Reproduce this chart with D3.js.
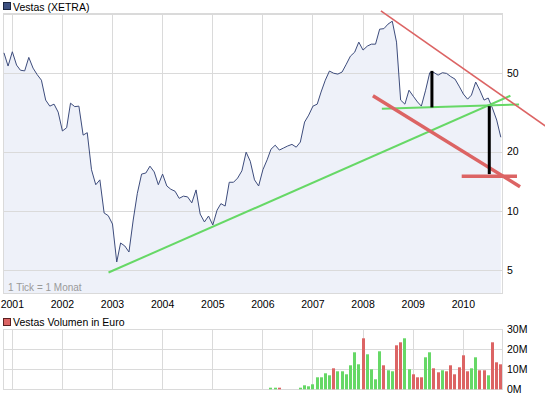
<!DOCTYPE html>
<html>
<head>
<meta charset="utf-8">
<script src="https://cdn.jsdelivr.net/npm/d3@7"></script>
<style>
  body { margin: 0; background: #fff; }
  svg { display: block; font-family: "Liberation Sans", Arial, sans-serif; }
</style>
</head>
<body>
<div id="chart"></div>
<script>
// monthly closing prices (EUR), Nov 2000 .. Oct 2010
var priceStart = "2000-11";
var prices = [
  63.6, 54.5,
  64.4, 55.1, 51.9, 51.5, 60.3, 53.2, 49.3, 46.2, 36.6, 34.1, 34.9, 31.8,
  25.5, 26.5, 35.3, 33.9, 34.1, 24.3, 25.0, 16.2, 13.6, 14.4, 9.77, 9.47,
  8.59, 5.51, 6.88, 6.64, 6.19, 9.00, 12.3, 15.4, 15.6, 16.9, 15.8, 13.6,
  15.4, 13.4, 12.9, 12.6, 11.6, 11.9, 11.8, 11.0, 12.8, 9.65, 8.80, 9.43,
  8.49, 10.1, 10.9, 10.6, 14.0, 14.0, 14.7, 16.0, 19.9, 17.9, 14.4, 13.4,
  16.2, 18.2, 20.6, 21.6, 20.4, 20.9, 21.4, 21.8, 21.1, 22.4, 28.3, 30.7,
  34.1, 34.9, 40.2, 46.2, 51.4, 50.1, 49.6, 50.8, 55.7, 61.2, 64.1, 72.1,
  65.7, 68.8, 70.4, 70.4, 83.9, 84.4, 89.0, 92.1, 72.1, 36.6, 34.9, 41.1,
  38.3, 35.8, 34.1, 41.1, 50.4, 50.5, 49.0, 50.4, 50.0, 48.2, 46.8, 43.1,
  39.3, 37.0, 38.8, 45.2, 41.1, 36.6, 37.5, 33.3, 29.0, 23.7
];

// monthly volume (million EUR), Mar 2006 .. Oct 2010; g = up month, r = down month
var volStart = "2006-03";
var volumes = [
  0.8, 0.8, 0.8, 0, 0, 0, 0, 0.8, 2, 1.5,
  2.5, 6, 6, 8, 7, 10.5, 9, 9, 7.5, 12, 18.5, 12.5,
  25.5, 17.5, 10, 5, 19, 12, 9.5, 9, 22, 23.5, 25.5, 10,
  7.5, 6, 6, 16, 18.5, 10.5, 8.5, 9.5, 9, 12, 7.5, 11,
  17, 9, 10.5, 16, 9.5, 9.5, 7, 23.5, 13.5, 12.5
];
var volColors = [
  "g", "g", "r", "g", "g", "g", "g", "g", "g", "g",
  "g", "g", "g", "g", "g", "r", "g", "g", "g", "g", "g", "g",
  "r", "g", "g", "g", "g", "r", "g", "g", "r", "r", "g", "g",
  "r", "r", "r", "g", "g", "r", "r", "g", "r", "r", "r", "r",
  "r", "r", "g", "g", "r", "r", "g", "r", "r", "r"
];

var yearTicks = [2001, 2002, 2003, 2004, 2005, 2006, 2007, 2008, 2009, 2010];
var priceTicks = [5, 10, 20, 50];
var priceGrid = [5, 10, 20, 50, 100];
var volTicks = [0, 10, 20, 30];

// hand drawn trend lines: [date, price]
var greenLines = [
  [["2002-12-03", 4.87], ["2010-12-10", 38.5]],
  [["2008-05-17", 33.1], ["2011-02-11", 34.8]]
];
var redThin = [["2008-05-10", 104], ["2011-08-27", 26.9]];
var redThick = [
  [["2008-03-13", 38.5], ["2011-02-18", 13.3]],
  [["2009-12-20", 15.0], ["2011-01-27", 15.0]]
];
var blackBars = [
  [["2009-05-17", 51.5], ["2009-05-17", 33.6]],
  [["2010-07-09", 34.1], ["2010-07-09", 15.4]]
];

var W = 545, H = 398;
var parseMonth = d3.timeParse("%Y-%m");
var parseDay = d3.timeParse("%Y-%m-%d");

var x = d3.scaleTime()
  .domain([new Date(2000, 9, 25), new Date(2010, 9, 17)])
  .range([3, 503]);
var y = d3.scaleLog().domain([3.82, 101]).range([293.3, 13.3]);
var yv = d3.scaleLinear().domain([0, 30]).range([389.3, 329.3]);

var priceDates = d3.timeMonth.range(parseMonth(priceStart), d3.timeMonth.offset(parseMonth(priceStart), prices.length));
var volDates = d3.timeMonth.range(parseMonth(volStart), d3.timeMonth.offset(parseMonth(volStart), volumes.length));
var priceData = prices.map(function(p, i) { return { d: priceDates[i], v: p }; });
var volData = volumes.map(function(v, i) { return { d: volDates[i], v: v, c: volColors[i] }; });

var svg = d3.select("#chart").append("svg").attr("width", W).attr("height", H);

var gridColor = "#dadada";

// ---- price panel ----
svg.append("g").selectAll("line.vg").data(yearTicks).enter().append("line")
  .attr("x1", function(d) { return x(new Date(d, 0, 1)); })
  .attr("x2", function(d) { return x(new Date(d, 0, 1)); })
  .attr("y1", y.range()[1]).attr("y2", y.range()[0])
  .attr("stroke", gridColor).attr("shape-rendering", "crispEdges");

var area = d3.area()
  .x(function(d) { return x(d.d); })
  .y0(y.range()[0])
  .y1(function(d) { return y(d.v); });
svg.append("path").datum(priceData)
  .attr("d", area).attr("fill", "#eef1f9");

svg.append("g").selectAll("line.hg").data(priceGrid).enter().append("line")
  .attr("x1", x.range()[0]).attr("x2", x.range()[1])
  .attr("y1", function(d) { return Math.round(y(d)) + 0.5; })
  .attr("y2", function(d) { return Math.round(y(d)) + 0.5; })
  .attr("stroke", gridColor);

svg.append("rect")
  .attr("x", 3.5).attr("y", 13.5).attr("width", 499).attr("height", 280)
  .attr("fill", "none").attr("stroke", gridColor);

svg.append("path").datum(priceData)
  .attr("d", d3.line().x(function(d) { return x(d.d); }).y(function(d) { return y(d.v); }))
  .attr("fill", "none").attr("stroke", "#3d4c7c").attr("stroke-width", 1);

svg.append("text").attr("x", 8).attr("y", 290.5)
  .attr("font-size", "10px").attr("fill", "#9a9a9a").text("1 Tick = 1 Monat");

svg.append("g").selectAll("text").data(priceTicks).enter().append("text")
  .attr("x", 507).attr("y", function(d) { return y(d); }).attr("dy", "0.35em")
  .attr("font-size", "10.5px").attr("fill", "#000").text(function(d) { return d; });

svg.append("g").selectAll("text").data(yearTicks).enter().append("text")
  .attr("x", function(d) { return x(new Date(d, 0, 1)); }).attr("y", 307.5)
  .attr("text-anchor", "middle").attr("font-size", "10.5px").attr("fill", "#000")
  .text(function(d) { return d; });

// trend lines
function seg(g, pts, color, width) {
  g.append("line")
    .attr("x1", x(parseDay(pts[0][0]))).attr("y1", y(pts[0][1]))
    .attr("x2", x(parseDay(pts[1][0]))).attr("y2", y(pts[1][1]))
    .attr("stroke", color).attr("stroke-width", width);
}
var ann = svg.append("g");
greenLines.forEach(function(p) { seg(ann, p, "#66d866", 2); });
seg(ann, redThin, "#dc6464", 1.6);
redThick.forEach(function(p) { seg(ann, p, "#dc6464", 3.5); });
blackBars.forEach(function(p) { seg(ann, p, "#000", 3); });

// legend
svg.append("rect").attr("x", 3.5).attr("y", 2.5).attr("width", 7).attr("height", 7)
  .attr("fill", "#3d5080").attr("stroke", "#1a2540");
svg.append("text").attr("x", 13).attr("y", 10.5)
  .attr("font-size", "10.5px").attr("fill", "#000").text("Vestas (XETRA)");

// ---- volume panel ----
svg.append("g").selectAll("line").data(yearTicks).enter().append("line")
  .attr("x1", function(d) { return x(new Date(d, 0, 1)); })
  .attr("x2", function(d) { return x(new Date(d, 0, 1)); })
  .attr("y1", yv.range()[1]).attr("y2", yv.range()[0])
  .attr("stroke", gridColor).attr("shape-rendering", "crispEdges");
svg.append("g").selectAll("line").data(volTicks).enter().append("line")
  .attr("x1", x.range()[0]).attr("x2", x.range()[1])
  .attr("y1", function(d) { return Math.round(yv(d)) + 0.5; })
  .attr("y2", function(d) { return Math.round(yv(d)) + 0.5; })
  .attr("stroke", gridColor);
svg.append("rect")
  .attr("x", 3.5).attr("y", 329.5).attr("width", 499).attr("height", 60)
  .attr("fill", "none").attr("stroke", gridColor);

svg.append("g").selectAll("rect").data(volData.filter(function(d) { return d.v > 0; })).enter().append("rect")
  .attr("x", function(d) { return Math.round(x(d.d) - 1.5); })
  .attr("y", function(d) { return yv(d.v); })
  .attr("width", 3)
  .attr("height", function(d) { return yv(0) - yv(d.v); })
  .attr("fill", function(d) { return d.c === "g" ? "#66d866" : "#dc6464"; });

svg.append("g").selectAll("text").data(volTicks).enter().append("text")
  .attr("x", 507).attr("y", function(d) { return yv(d); }).attr("dy", "0.35em")
  .attr("font-size", "10.5px").attr("fill", "#000").text(function(d) { return d + "M"; });

svg.append("rect").attr("x", 3.5).attr("y", 318.5).attr("width", 7).attr("height", 7)
  .attr("fill", "#dc6464").attr("stroke", "#5a2020");
svg.append("text").attr("x", 13).attr("y", 326)
  .attr("font-size", "10.5px").attr("fill", "#000").text("Vestas Volumen in Euro");
</script>
</body>
</html>
